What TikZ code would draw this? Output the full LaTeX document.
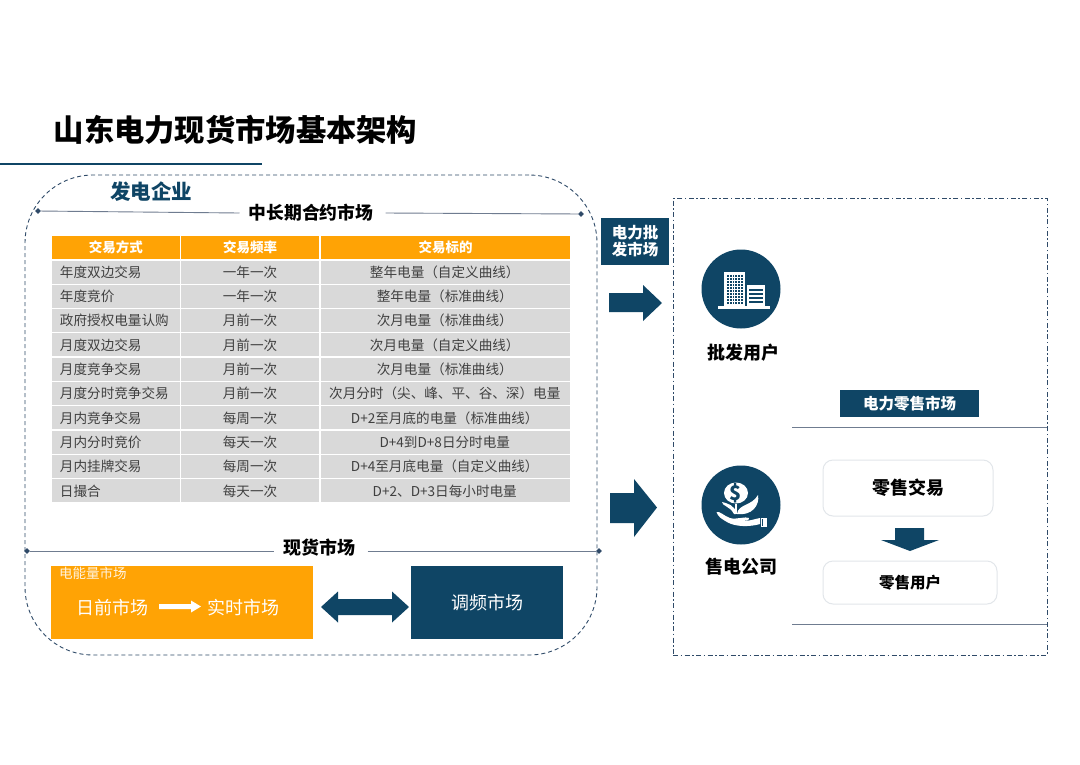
\documentclass[tikz,border=0pt]{standalone}
\usepackage{fontspec}
\setmainfont{Noto Sans CJK SC}
\usetikzlibrary{shapes.geometric}
\definecolor{navy}{HTML}{0F4565}
\definecolor{orangeb}{HTML}{FFA305}
\definecolor{rowgrey}{HTML}{D9D9D9}
\definecolor{bodytext}{HTML}{404040}
\definecolor{rulec}{HTML}{6F7C90}
\definecolor{dashc}{HTML}{2F4A68}
\definecolor{softb}{HTML}{E2E6EA}
\newcommand{\fsz}[1]{\fontsize{#1}{#1}\selectfont}
\tikzset{
  lbl/.style={inner sep=0pt,font=\fsz{#1}},
  blbl/.style={inner sep=0pt,font=\fsz{#1}\bfseries},
  cell/.style={fill=rowgrey,minimum height=23pt,inner sep=0pt,text=bodytext,font=\fsz{13.6},anchor=center},
  hcell/.style={fill=orangeb,minimum height=23pt,inner sep=0pt,text=white,font=\fsz{13.5}\bfseries,anchor=center},
  tip/.style={diamond,fill=dashc,inner sep=0pt,minimum size=6pt},
  rulel/.style={draw=rulec,line width=0.9pt},
  softbox/.style={draw=softb,line width=1pt,rounded corners=10pt,fill=white,inner sep=0pt},
  blockarrow/.style={fill=navy,draw=none},
  navybox/.style={fill=navy,text=white,inner sep=0pt},
}
\begin{document}
\begin{tikzpicture}[x=1pt,y=-1pt]
\useasboundingbox (0,0) rectangle (1080,764);
\fill[white] (0,0) rectangle (1080,764);
% title
\node[blbl=30.3,anchor=center,text=black] (title) at (235.5,130) {山东电力现货市场基本架构};
\coordinate (ua) at (0,164);
\coordinate (ub) at (262,164);
\draw[navy,line width=1.4pt] (ua) -- (ub);
% outer frames
\node[draw=dashc,line width=0.9pt,dash pattern=on 4pt off 3pt,rounded corners=68pt,minimum width=572pt,minimum height=480pt,inner sep=0pt] (gen) at (311,415) {};
\node[draw=dashc,line width=0.95pt,dash pattern=on 5pt off 2.5pt on 1.5pt off 2.5pt,minimum width=374pt,minimum height=457pt,inner sep=0pt] (usr) at (860,426.6) {};
\node[blbl=20.5,text=navy] (fadian) at (151,192) {发电企业};
% mid-long term
\node[blbl=17.8,inner xsep=9pt] (mlt) at (311,213) {中长期合约市场};
\node[tip] (t1) at (38,211) {};
\node[tip] (t2) at (581,214) {};
\draw[rulel] (t1) -- (mlt.west);
\draw[rulel] ([xshift=3pt]mlt.east) -- (t2);
% table header
\node[hcell,minimum width=127.5pt] (h1) at (115.75,247.5) {\raisebox{-1pt}{交易方式}};
\node[hcell,minimum width=138.5pt] (h2) at (250,247.5) {\raisebox{-1pt}{交易频率}};
\node[hcell,minimum width=249pt] (h3) at (445.5,247.5) {\raisebox{-1pt}{交易标的}};
% table rows
\foreach \i/\a/\b/\c in {
 0/年度双边交易/一年一次/整年电量（自定义曲线）,
 1/年度竞价/一年一次/整年电量（标准曲线）,
 2/政府授权电量认购/月前一次/次月电量（标准曲线）,
 3/月度双边交易/月前一次/次月电量（自定义曲线）,
 4/月度竞争交易/月前一次/次月电量（标准曲线）,
 5/月度分时竞争交易/月前一次/次月分时（尖、峰、平、谷、深）电量,
 6/月内竞争交易/每周一次/D+2至月底的电量（标准曲线）,
 7/月内分时竞价/每天一次/D+4到D+8日分时电量,
 8/月内挂牌交易/每周一次/D+4至月底电量（自定义曲线）,
 9/日撮合/每天一次/D+2、D+3日每小时电量}{
  \pgfmathsetmacro{\yy}{272+24.33*\i}
  \node[cell,text width=119.5pt,inner xsep=4pt,align=left] (r\i a) at (115.75,\yy) {\hspace*{4pt}\a};
  \node[cell,minimum width=138.5pt] (r\i b) at (250,\yy) {\b};
  \node[cell,minimum width=249pt] (r\i c) at (445.5,\yy) {\hspace*{-1.5pt}\c};
}
% spot market
\node[blbl=18,inner xsep=9pt] (spot) at (319.5,548) {现货市场};
\node[tip] (t3) at (27,551) {};
\node[tip] (t4) at (599,551) {};
\coordinate (s1) at (spot.west |- t3);
\coordinate (s2) at ([xshift=3pt]spot.east |- t4);
\draw[rulel] (t3) -- (s1);
\draw[rulel] (s2) -- (t4);
\node[fill=orangeb,minimum width=262pt,minimum height=73pt,inner sep=0pt] (energy) at (182,602.5) {};
\node[lbl=13.5,text=white!88!orangeb,anchor=west] (enlbl) at (59,573.5) {电能量市场};
\node[lbl=18,text=white] (da) at (112.5,608) {日前市场};
\node[lbl=18,text=white] (rt) at (243,608) {实时市场};
\fill[white] (159,604) -- (191,604) -- (191,600.5) -- (201,606.5) -- (191,612.5) -- (191,609) -- (159,609) -- cycle;
\node[navybox,minimum width=152pt,minimum height=73pt,font=\fsz{18}] (fm) at (487,602.5) {调频市场};
\fill[blockarrow] (321,607) -- (338,591.5) -- (338,599) -- (392,599) -- (392,591.5) -- (409,607) -- (392,622.5) -- (392,615) -- (338,615) -- (338,622.5) -- cycle;
% wholesale
\node[navybox,minimum width=68pt,minimum height=47pt,align=center,font=\fsz{15.5}\bfseries] (pfm) at (635,241.5) {电力批\\[1.5pt]发市场};
\fill[blockarrow] (609,293) -- (643,293) -- (643,285) -- (662,303) -- (643,321) -- (643,312) -- (609,312) -- cycle;
\node[circle,fill=navy,minimum size=79pt,inner sep=0pt] (c1) at (741,289) {};
% building icon
\fill[white] (718,306) rectangle (769.5,309);
\fill[white] (724,272) rectangle (745,306);
\fill[white] (746.5,285) rectangle (765,306);
\foreach \yy in {275,278,281,284,287,290,293,296,299,302}{
  \foreach \xx in {727,729.8,732.6,735.4,738.2,741}{
    \fill[navy] (\xx,\yy) rectangle +(1.8,1.6);
  }
}
\foreach \yy in {288.5,292.5,296.5,300.5}{
  \fill[navy] (748.5,\yy) rectangle (763,\yy+2);
}
\node[blbl=18] (pfu) at (743,353) {批发用户};
% retail arrow
\fill[blockarrow] (610,493) -- (634,493) -- (634,479) -- (657,507.5) -- (634,537) -- (634,523) -- (610,523) -- cycle;
\node[circle,fill=navy,minimum size=79pt,inner sep=0pt] (c2) at (741,505) {};
% plant-in-hand icon
\fill[white] (736,493) ellipse (12pt and 10.5pt);
\node[inner sep=0pt,text=navy,font=\fsz{20}\bfseries] (dollar) at (736,493) {\$};
\draw[white,line width=1.2pt] (736,504) -- (736,514);
\fill[white] (734,514) .. controls (730,506) and (722,506) .. (722,502) .. controls (726,503) and (736,505) .. (736,514) -- cycle;
\fill[white] (737,514) .. controls (738,504) and (752,506) .. (758,495) .. controls (760,505) and (752,516) .. (737,514) -- cycle;
\fill[white] (716.5,512) .. controls (720,511) and (724,516) .. (730,518) .. controls (736,520) and (746,516) .. (749,518) .. controls (750,520) and (746,521) .. (740,520.5) .. controls (748,522) and (754,519) .. (760,518) -- (760,524) .. controls (750,527) and (735,527) .. (727,522) .. controls (722,519) and (718,517) .. (716.5,512) -- cycle;
\fill[white] (761,517.5) rectangle (767,527);
\fill[navy] (762,519) rectangle (763,526);
\node[blbl=18] (sd) at (741,567) {售电公司};
% retail market
\node[navybox,minimum width=139pt,minimum height=27pt,font=\fsz{15.5}\bfseries] (rm) at (909.5,403.5) {\raisebox{-0.5pt}{电力零售市场}};
\coordinate (l1a) at (792,427);
\coordinate (l1b) at (1047,427);
\coordinate (l2a) at (792,624);
\coordinate (l2b) at (1047,624);
\draw[rulel] (l1a) -- (l1b);
\draw[rulel] (l2a) -- (l2b);
\node[softbox,minimum width=170pt,minimum height=56pt,font=\fsz{18}\bfseries] (rt1) at (908,488) {\raisebox{-1pt}{零售交易}};
\node[softbox,minimum width=174pt,minimum height=43pt,font=\fsz{15.5}\bfseries] (rt2) at (910,582.5) {\raisebox{-0.5pt}{零售用户}};
\fill[blockarrow] (895,528) -- (924,528) -- (924,540) -- (939,540) -- (910,551) -- (881,540) -- (895,540) -- cycle;
\end{tikzpicture}
\end{document}
